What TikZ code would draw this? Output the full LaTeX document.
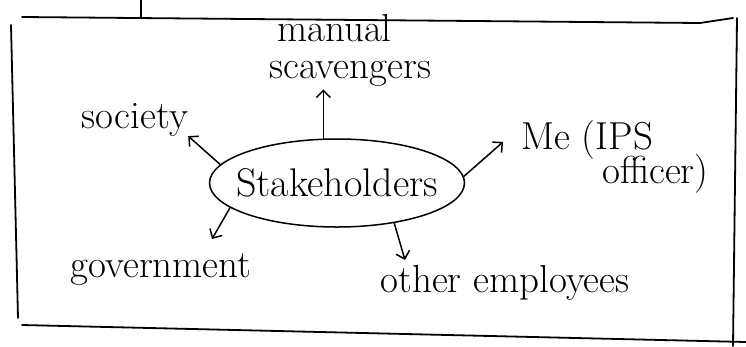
\documentclass[tikz,border=0pt]{standalone}
\usepackage{fontspec}
\usetikzlibrary{shapes.geometric, arrows.meta}
\tikzset{
    hub/.style={
        ellipse, draw=black, line width=1.5pt, minimum width=255pt, minimum height=88pt,
        inner xsep=-14pt, inner ysep=0pt, font=\fontsize{40}{40}\selectfont
    },
    note/.style={inner sep=0pt, font=\fontsize{39}{37}\selectfont},
    arrow/.style={line width=1.5pt, -{Straight Barb[length=7pt,width=14pt]}},
    frame/.style={line width=1.8pt, line cap=round}
}
\begin{document}
\begin{tikzpicture}[x=1pt, y=-1pt]
    \useasboundingbox (0,0) rectangle (746,346);
    % hand drawn frame
    \draw [frame] (22,17) -- (700,23) -- (733,18);
    \draw [frame] (141,0) -- (141,17);
    \draw [frame] (11,25) -- (18,318);
    \draw [frame] (22,325) -- (746,342);
    \draw [frame] (737,18) -- (733,346);
    % centre and labels
    \node (stake) [hub] at (337,183) {Stakeholders};
    \node (scav) [note, align=left, anchor=north west] at (269,14) {\hspace*{8pt}manual\\scavengers};
    \node (society) [note, anchor=base] at (135,128) {society};
    \node (me) [note, align=left, anchor=north west] at (521,120) {Me (IPS\\[-6pt]\hspace*{81pt}officer)};
    \node (govt) [note, anchor=base] at (161,277) {government};
    \node (others) [note, anchor=base] at (505,292) {other employees};
    % free ends of the arrows
    \coordinate (meTip) at (503,142);
    \coordinate (govtTip) at (212,239);
    \coordinate (othersTip) at (405,260);
    \draw [arrow, shorten >=3pt] (stake.107) -- (stake.107 |- scav.south);
    \draw [arrow] (stake.171) -- (society.south east);
    \draw [arrow] (stake.3) -- (meTip);
    \draw [arrow] (stake.-167) -- (govtTip);
    \draw [arrow] (stake.-35) -- (othersTip);
\end{tikzpicture}
\end{document}
